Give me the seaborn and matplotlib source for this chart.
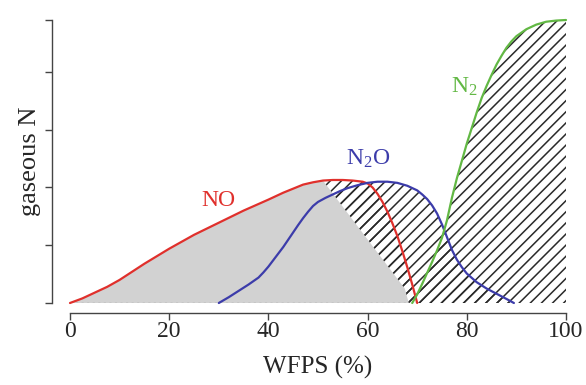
import numpy as np
import pandas as pd
import matplotlib
matplotlib.use("Agg")
import matplotlib.pyplot as plt
import seaborn as sns

# ---- data ----
no_x = [0, 2.5, 5, 7.5, 10, 12.5, 15, 17.5, 20, 25, 30, 35, 40, 43, 45, 47, 49, 51, 53, 55,
        57, 59, 60, 61, 62, 63, 64, 65, 66, 67, 68, 69, 69.5, 70]
no_y = [0, 0.08, 0.18, 0.28, 0.40, 0.54, 0.68, 0.81, 0.94, 1.18, 1.39, 1.60, 1.79, 1.91, 1.98,
        2.05, 2.09, 2.12, 2.13, 2.13, 2.12, 2.10, 2.07, 2.00, 1.89, 1.75, 1.58, 1.38, 1.16,
        0.90, 0.62, 0.32, 0.16, 0]

n2o_x = [30, 32, 34, 36, 38, 39, 40, 41.5, 43, 44.5, 46, 47, 48, 49, 50, 51.5, 53, 54.5, 56,
         58, 60, 62, 64, 66, 68, 70, 71, 72, 73, 74, 75, 76, 77, 78, 79, 80, 82, 84, 86, 88, 89.5]
n2o_y = [0, 0.10, 0.21, 0.32, 0.44, 0.53, 0.63, 0.80, 0.97, 1.16, 1.35, 1.47, 1.58, 1.68, 1.75,
         1.82, 1.88, 1.94, 1.99, 2.04, 2.08, 2.10, 2.10, 2.08, 2.03, 1.95, 1.88, 1.80, 1.69,
         1.55, 1.36, 1.14, 0.92, 0.75, 0.62, 0.51, 0.36, 0.25, 0.16, 0.07, 0]

n2_x = [69, 70, 71, 72, 73, 74, 75, 76, 77, 78, 79, 80, 81, 82, 83, 84, 85, 86, 87, 88, 89,
        90, 92, 94, 96, 98, 100]
n2_y = [0, 0.15, 0.33, 0.52, 0.71, 0.91, 1.13, 1.43, 1.82, 2.16, 2.46, 2.76, 3.03, 3.30, 3.55,
        3.76, 3.95, 4.13, 4.28, 4.42, 4.53, 4.62, 4.74, 4.82, 4.87, 4.89, 4.90]

# corner points closing the grey (NO-only) zone after the NO curve
grey_cut_x = [67.5, 68.3]
grey_cut_y = [0.25, 0.0]
grey_cut_from = 51

x_ticks = [0, 20, 40, 60, 80, 100]
y_ticks = [0, 1, 2, 3, 4, 4.9]

labels = {"NO": (30, 1.78), "N$_2$O": (60, 2.5), "N$_2$": (79.5, 3.75)}

red = "#e0302c"
blue = "#3c3caa"
green = "#62b844"

sns.set_style("ticks")
plt.rcParams["font.family"] = ["Liberation Serif", "DejaVu Serif"]
plt.rcParams["mathtext.fontset"] = "custom"
plt.rcParams["mathtext.rm"] = "Liberation Serif"
plt.rcParams["mathtext.it"] = "Liberation Serif:italic"
plt.rcParams["hatch.linewidth"] = 1.1

fig = plt.figure(figsize=(5.86, 3.85), dpi=100)
ax = fig.add_axes([70 / 586, 82 / 385, 496 / 586, 283 / 385])

# hatched zones under every curve
for xs, ys in [(no_x, no_y), (n2o_x, n2o_y), (n2_x, n2_y)]:
    ax.fill_between(xs, 0, ys, facecolor="none", edgecolor="#2a2a2a",
                    linewidth=0, hatch="///", zorder=1)

# grey zone
gx = [x for x in no_x if x <= grey_cut_from] + grey_cut_x
gy = [y for x, y in zip(no_x, no_y) if x <= grey_cut_from] + grey_cut_y
ax.fill_between(gx, 0, gy, facecolor="#d2d2d2", edgecolor="none", zorder=2)

# dotted baseline
ax.plot([0, 70], [0, 0], ls=(0, (1.5, 2.5)), color="#999999", lw=1.0, zorder=3)

df_no = pd.DataFrame({"x": no_x, "y": no_y})
df_n2o = pd.DataFrame({"x": n2o_x, "y": n2o_y})
df_n2 = pd.DataFrame({"x": n2_x, "y": n2_y})
for df, c in [(df_no, red), (df_n2o, blue), (df_n2, green)]:
    sns.lineplot(data=df, x="x", y="y", color=c, lw=1.6, ax=ax,
                 sort=False, zorder=4, clip_on=False)

ax.text(*labels["NO"], "NO", color=red, fontsize=17, ha="center", va="center")
ax.text(*labels["N$_2$O"], "N$_2$O", color=blue, fontsize=17, ha="center", va="center")
ax.text(*labels["N$_2$"], "N$_2$", color=green, fontsize=17, ha="center", va="center")

ax.set_xlim(0, 100)
ax.set_ylim(0, 4.9)
ax.set_xticks(x_ticks)
ax.set_xticklabels([str(t) for t in x_ticks])
ax.set_yticks(y_ticks)
ax.set_yticklabels([])
ax.set_xlabel("WFPS (%)", fontsize=18, labelpad=10)
ax.set_ylabel("gaseous N", fontsize=19, labelpad=2)

for s in ["top", "right"]:
    ax.spines[s].set_visible(False)
ax.spines["left"].set_position(("outward", 13))
ax.spines["bottom"].set_position(("outward", 7.2))
ax.spines["left"].set_bounds(0, 4.9)
ax.spines["bottom"].set_bounds(0, 100)
for s in ["left", "bottom"]:
    ax.spines[s].set_color("#444444")
    ax.spines[s].set_linewidth(1.0)
ax.tick_params(direction="out", length=5, width=1.0, color="#444444",
               labelsize=17, pad=1)
ax.patch.set_visible(False)

fig.savefig("out.png", dpi=100)
